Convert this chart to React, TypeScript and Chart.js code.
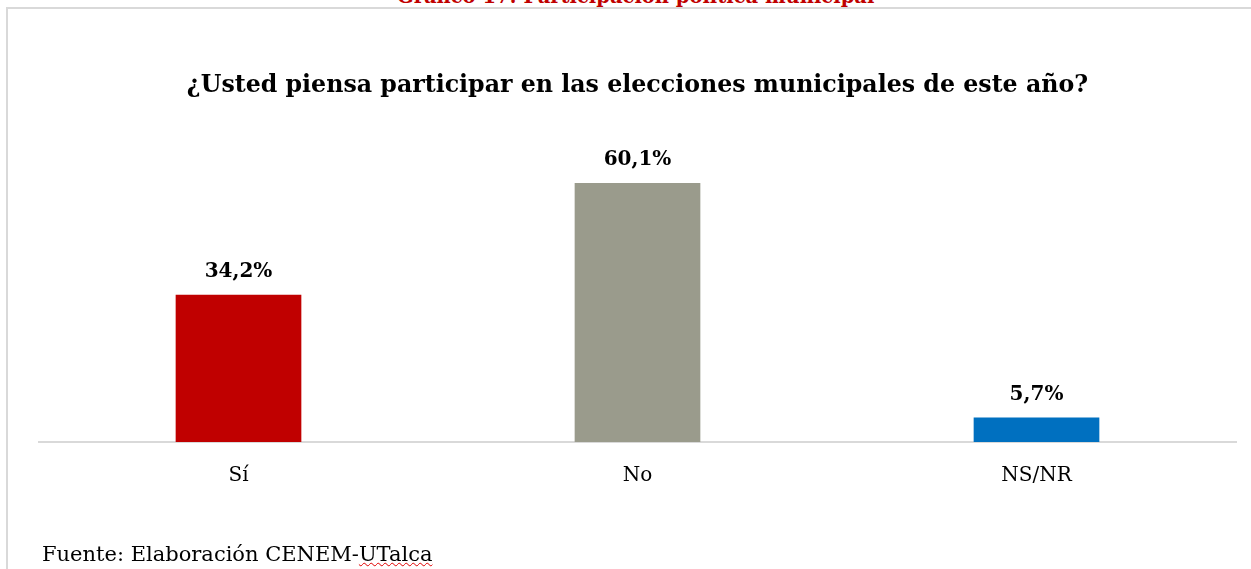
import React, { useEffect, useRef } from "react";
import { Chart, registerables } from "chart.js";

Chart.register(...registerables);

const categories = ["Sí", "No", "NS/NR"];
const values = [34.2, 60.1, 5.7];
const valueLabels = ["34,2%", "60,1%", "5,7%"];
const barColors = ["#C00000", "#9A9B8C", "#0070C0"];
const chartTitle = "¿Usted piensa participar en las elecciones municipales de este año?";
const heading = "Gráfico 17: Participación política municipal";
const sourcePrefix = "Fuente: Elaboración CENEM-";
const sourceSuffix = "UTalca";

const SERIF = "'DejaVu Serif', serif";

const labelPlugin = {
  id: "valueLabels",
  afterDatasetsDraw(chart: any) {
    const ctx = chart.ctx;
    const meta = chart.getDatasetMeta(0);
    ctx.save();
    ctx.font = `bold 20px ${SERIF}`;
    ctx.fillStyle = "#000";
    ctx.textAlign = "center";
    ctx.textBaseline = "middle";
    meta.data.forEach((bar: any, i: number) => {
      ctx.fillText(valueLabels[i], bar.x, bar.y - 23);
    });
    ctx.restore();
  },
};

export default function App() {
  const ref = useRef<HTMLCanvasElement>(null);
  useEffect(() => {
    if (!ref.current) return;
    const chart = new Chart(ref.current, {
      type: "bar",
      data: {
        labels: categories,
        datasets: [
          {
            data: values,
            backgroundColor: barColors,
            categoryPercentage: 1,
            barPercentage: 0.315,
          },
        ],
      },
      options: {
        animation: false,
        responsive: false,
        maintainAspectRatio: false,
        layout: { padding: { left: 39, right: 15, top: 0, bottom: 67 } },
        plugins: {
          legend: { display: false },
          tooltip: { enabled: false },
          title: {
            display: true,
            text: chartTitle,
            color: "#000",
            font: { family: SERIF, size: 23.7, weight: "bold" },
            padding: { top: 72, bottom: 40 },
          },
        },
        scales: {
          x: {
            grid: { display: false },
            border: { display: true, color: "#D9D9D9", width: 2 },
            ticks: {
              color: "#000",
              font: { family: SERIF, size: 20 },
              padding: 14,
            },
          },
          y: {
            display: false,
            min: 0,
            max: 70,
          },
        },
      },
      plugins: [labelPlugin],
    });
    return () => chart.destroy();
  }, []);

  return (
    <div style={{ position: "absolute", left: 0, top: 0, width: 1251, height: 569, overflow: "hidden", background: "#fff" }}>
      <div
        style={{
          position: "absolute",
          left: 6,
          top: 7,
          width: 1300,
          height: 700,
          border: "2px solid #D9D9D9",
          boxSizing: "border-box",
        }}
      />
      <div
        style={{
          position: "absolute",
          left: 397,
          top: -14,
          fontFamily: SERIF,
          fontWeight: "bold",
          fontSize: 19.5,
          color: "#C00000",
          whiteSpace: "nowrap",
          lineHeight: "22px",
        }}
      >
        {heading}
      </div>
      <canvas ref={ref} width={1251} height={569} style={{ position: "absolute", left: 0, top: 0 }} />
      <div
        style={{
          position: "absolute",
          left: 42,
          top: 542,
          fontFamily: SERIF,
          fontSize: 21,
          color: "#000",
          whiteSpace: "nowrap",
          lineHeight: "24px",
        }}
      >
        {sourcePrefix}
        <span style={{ textDecoration: "underline wavy #E00000", textDecorationThickness: 1 }}>{sourceSuffix}</span>
      </div>
    </div>
  );
}
